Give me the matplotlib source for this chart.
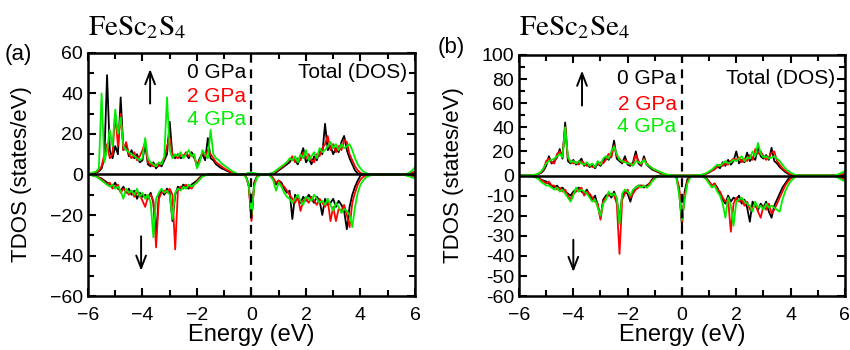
import matplotlib.pyplot as plt
import numpy as np

plt.rcParams['font.family'] = ['Liberation Sans', 'DejaVu Sans']
plt.rcParams['mathtext.fontset'] = 'stix'

# energy grid (eV)
energy = np.round(np.arange(-6, 6.001, 0.1), 1)

# ---- (a) FeSc2S4 ----
a_up_0 = [0, 0.3, 0.6, 1, 1.5, 3, 8, 49, 12, 8,
          14, 10, 38, 12, 15, 9, 12, 8, 10, 6,
          7, 15, 5, 4, 6, 3, 5, 4, 7, 10,
          26, 9, 8, 10, 8, 9, 10, 8, 11, 9,
          4, 8, 10, 7, 18, 8, 7, 5, 4, 3,
          2.5, 1.8, 1.2, 0.6, 0.2, 0, 0, 0, 0.2, 0.6,
          0.5, 0.3, 0.2, 0, 0, 0, 0, 0.2, 0.5, 1,
          2, 3, 4, 5, 6, 8, 7, 5, 9, 13,
          6, 8, 5, 9, 7, 12, 10, 25, 12, 14,
          10, 13, 11, 16, 19, 12, 8, 5, 2, 0.5,
          0, 0, 0, 0, 0, 0, 0, 0, 0, 0,
          0, 0, 0, 0, 0, 0, 0, 0, 0.2, 0.5,
          1]
a_up_2 = [0, 0.3, 0.7, 1.2, 2, 4, 10, 15, 8, 10,
          30, 14, 30, 12, 16, 10, 8, 11, 7, 9,
          12, 16, 6, 5, 4, 5, 4, 6, 8, 14,
          18, 10, 9, 8, 10, 9, 11, 9, 10, 8,
          5, 7, 11, 9, 12, 10, 8, 6, 5, 4,
          3, 2.2, 1.5, 0.8, 0.3, 0, 0, 0, 0.2, 0.5,
          0.6, 0.4, 0.3, 0, 0, 0, 0, 0.3, 0.8, 1.5,
          2.5, 3.5, 4.5, 6, 7, 9, 6, 8, 7, 11,
          8, 10, 7, 6, 10, 9, 13, 15, 19, 12,
          15, 11, 14, 12, 17, 16, 10, 7, 4, 2,
          0.8, 0.2, 0, 0, 0, 0, 0, 0, 0, 0,
          0, 0, 0, 0, 0, 0, 0, 0, 0.5, 1,
          1.5]
a_up_4 = [0, 0.5, 1, 1.5, 3, 40, 6, 12, 22, 14,
          32, 20, 28, 14, 12, 11, 10, 9, 8, 7,
          8, 18, 8, 6, 5, 4, 6, 5, 9, 38,
          12, 8, 10, 9, 11, 8, 10, 12, 9, 10,
          3, 6, 12, 10, 8, 22, 10, 8, 7, 5.5,
          4.5, 3.5, 2.5, 1.5, 0.8, 0.3, 0, 0, 0.3, 0.8,
          1, 0.6, 0.4, 0.2, 0, 0, 0.2, 0.5, 1, 2,
          3, 4, 5, 6, 8, 7, 9, 6, 10, 8,
          12, 7, 9, 11, 8, 13, 11, 12, 14, 16,
          13, 15, 12, 15, 13, 14, 15, 12, 8, 5,
          3, 1.5, 0.8, 0.3, 0, 0, 0, 0, 0, 0,
          0, 0, 0, 0, 0, 0, 0, 0.3, 1, 2,
          3.5]
a_dn_0 = [0, -0.2, -0.5, -0.8, -1.5, -2, -3, -4, -5, -6,
          -4, -7, -8, -6, -9, -7, -10, -8, -12, -9,
          -11, -10, -12, -9, -14, -30, -11, -8, -10, -7,
          -9, -23, -10, -6, -7, -5, -6, -7, -5, -4,
          -3, -1.5, -0.5, -0.2, 0, 0, 0, 0, 0, 0,
          0, 0, 0, 0, 0, 0, 0, 0, -1, -5,
          -22, -4, -1, -0.3, 0, 0, 0, -0.5, -2, -5,
          -3, -4, -7, -9, -8, -22, -10, -12, -14, -11,
          -13, -10, -12, -14, -11, -13, -20, -12, -15, -14,
          -12, -16, -13, -15, -18, -27, -16, -10, -6, -3,
          -0.5, 0, 0, 0, 0, 0, 0, 0, 0, 0,
          0, 0, 0, 0, 0, 0, 0, -0.2, -0.4, -0.6,
          -0.8]
a_dn_2 = [0, -0.2, -0.5, -1, -1.5, -2.5, -3.5, -5, -4, -7,
          -6, -5, -9, -7, -8, -10, -8, -11, -9, -10,
          -13, -16, -11, -10, -13, -36, -12, -9, -8, -9,
          -7, -10, -37, -8, -6, -7, -5, -6, -7, -5,
          -3.5, -2, -0.8, -0.3, 0, 0, 0, 0, 0, 0,
          0, 0, 0, 0, 0, 0, 0, 0, -1, -6,
          -23, -5, -1, -0.3, 0, 0, 0, -0.5, -2, -4,
          -3, -5, -6, -8, -10, -12, -14, -11, -18, -13,
          -12, -14, -11, -13, -15, -12, -14, -16, -13, -23,
          -16, -23, -17, -18, -15, -20, -26, -14, -9, -5,
          -2.5, -1.2, -0.5, -0.2, 0, 0, 0, 0, 0, 0,
          0, 0, 0, 0, 0, 0, 0, -0.4, -0.7, -1,
          -1.3]
a_dn_4 = [0, -0.3, -0.6, -1, -2, -3, -4, -5, -6, -5,
          -7, -6, -8, -12, -7, -9, -8, -10, -7, -11,
          -9, -12, -10, -14, -31, -12, -9, -7, -9, -8,
          -10, -22, -9, -7, -8, -6, -7, -5, -6, -5,
          -4, -2.5, -1, -0.5, -0.3, -0.2, 0, 0, 0, 0,
          0, 0, 0, 0, 0, 0, 0, 0, -1.5, -5,
          -20, -6, -1.5, -0.5, 0, 0, 0, -1, -3, -8,
          -4, -6, -9, -11, -12, -14, -12, -10, -13, -15,
          -11, -12, -13, -10, -12, -14, -13, -15, -12, -15,
          -18, -14, -16, -19, -17, -18, -20, -26, -16, -9,
          -5, -3, -1.5, -0.8, -0.3, 0, 0, 0, 0, 0,
          0, 0, 0, 0, 0, 0, -0.3, -0.6, -1, -1.5,
          -2]

# ---- (b) FeSc2Se4 ----
b_up_0 = [0, 0, 0, 0, 0.1, 0.2, 0.5, 1, 2, 4,
          8, 16, 10, 12, 15, 22, 14, 44, 12, 10,
          13, 9, 11, 14, 8, 10, 7, 9, 6, 10,
          8, 12, 15, 13, 17, 29, 14, 12, 10, 16,
          9, 8, 11, 20, 10, 8, 16, 9, 7, 5,
          4, 3, 2, 1.2, 0.6, 0.2, 0, 0, 0, 0,
          0, 0, 0, 0, 0, 0, 0, 0.3, 0.7, 1.5,
          2.5, 4, 6, 8, 6, 11, 8, 13, 9, 12,
          20, 10, 13, 11, 19, 12, 15, 13, 24, 16,
          14, 17, 13, 23, 12, 10, 7, 5, 3, 1.5,
          0.5, 0, 0, 0, 0, 0, 0, 0, 0, 0,
          0, 0, 0, 0, 0, 0, 0, 0, 0.3, 0.6,
          1]
b_up_2 = [0, 0, 0, 0, 0.1, 0.2, 0.5, 1.2, 2.5, 5,
          12, 14, 11, 10, 18, 20, 16, 40, 14, 12,
          10, 11, 9, 12, 10, 8, 9, 7, 8, 9,
          11, 10, 13, 18, 15, 25, 16, 14, 11, 13,
          11, 9, 10, 17, 12, 9, 14, 10, 8, 6,
          4.5, 3.5, 2.5, 1.5, 0.8, 0.3, 0, 0, 0, 0,
          0, 0, 0, 0, 0, 0, 0, 0.4, 0.8, 1.5,
          3, 4, 5, 7, 9, 8, 10, 9, 12, 14,
          13, 15, 11, 14, 12, 17, 13, 22, 18, 20,
          16, 13, 15, 19, 20, 12, 9, 6, 4, 2.5,
          1, 0.3, 0, 0, 0, 0, 0, 0, 0, 0,
          0, 0, 0, 0, 0, 0, 0, 0.2, 0.6, 1,
          2]
b_up_4 = [0, 0, 0, 0.1, 0.2, 0.4, 0.8, 1.5, 3, 6,
          10, 12, 13, 14, 16, 18, 15, 40, 16, 11,
          12, 10, 12, 10, 9, 11, 8, 10, 7, 12,
          9, 14, 16, 14, 20, 24, 18, 13, 12, 11,
          10, 10, 8, 12, 11, 10, 13, 9, 8, 6,
          5, 4, 3, 2, 1.2, 0.6, 0.2, 0, 0, 0,
          0, 0, 0, 0, 0, 0, 0.2, 0.6, 1.2, 2,
          3.5, 5, 7, 9, 8, 10, 12, 10, 11, 13,
          12, 14, 16, 12, 15, 14, 20, 16, 27, 18,
          15, 16, 14, 15, 16, 14, 12, 9, 6, 4,
          2.5, 1.2, 0.5, 0, 0, 0, 0, 0, 0, 0,
          0, 0, 0, 0, 0, 0, 0, 0.5, 1.5, 2.5,
          4]
b_dn_0 = [0, 0, 0, 0, 0, -0.3, -0.6, -1, -2, -2.5,
          -3, -4, -5, -6, -5, -7, -6, -8, -9, -10,
          -8, -7, -6, -8, -9, -7, -10, -12, -10, -15,
          -21, -12, -10, -9, -11, -8, -12, -22, -10, -8,
          -9, -13, -8, -6, -5, -5, -6, -5, -4, -2,
          -0.8, -0.3, 0, 0, 0, 0, 0, 0, -1, -8,
          -25, -8, -2, -0.5, 0, 0, 0, 0, -0.5, -1.5,
          -3, -5, -4, -6, -9, -12, -14, -10, -13, -11,
          -12, -10, -14, -12, -16, -23, -13, -15, -17, -14,
          -16, -13, -18, -21, -15, -12, -9, -6, -4, -2,
          -0.5, 0, 0, 0, 0, 0, 0, 0, 0, 0,
          0, 0, 0, 0, 0, 0, 0, -0.3, -0.6, -1,
          -1.5]
b_dn_2 = [0, 0, 0, 0, 0, -0.3, -0.7, -1.2, -2, -3,
          -4, -3, -5, -5, -7, -6, -8, -7, -10, -12,
          -9, -8, -7, -6, -10, -8, -9, -11, -13, -14,
          -22, -13, -11, -10, -9, -10, -14, -39, -12, -9,
          -7, -11, -9, -7, -6, -5, -5, -6, -4, -2.5,
          -1, -0.4, 0, 0, 0, 0, 0, 0, -1, -6,
          -23, -10, -3, -0.8, 0, 0, 0, 0, -0.5, -1.5,
          -3, -5, -4, -7, -8, -11, -13, -12, -28, -14,
          -11, -13, -12, -15, -13, -17, -16, -14, -18, -21,
          -15, -17, -14, -19, -17, -14, -11, -8, -5, -3,
          -1.5, -0.5, 0, 0, 0, 0, 0, 0, 0, 0,
          0, 0, 0, 0, 0, 0, -0.2, -0.5, -1, -1.5,
          -2]
b_dn_4 = [0, 0, 0, 0, -0.2, -0.5, -1, -1.5, -3, -4,
          -5, -5, -6, -7, -6, -8, -7, -9, -11, -13,
          -10, -6, -8, -7, -8, -9, -11, -13, -12, -16,
          -20, -14, -12, -8, -10, -9, -11, -24, -9, -7,
          -8, -10, -7, -6, -5, -6, -5, -6, -5, -3,
          -1.5, -0.6, 0, 0, 0, 0, 0, 0, -1.5, -10,
          -22, -12, -4, -1, 0, 0, 0, 0, -0.8, -2,
          -4, -6, -5, -8, -10, -14, -21, -11, -15, -25,
          -13, -12, -11, -13, -14, -15, -18, -13, -16, -15,
          -17, -14, -16, -15, -16, -17, -18, -12, -8, -5,
          -3, -1.5, -0.6, 0, 0, 0, 0, 0, 0, 0,
          0, 0, 0, 0, 0, 0, -0.4, -0.8, -1.5, -2.2,
          -3]

labels = ['0 GPa', '2 GPa', '4 GPa']
colors = ['black', '#ff0000', '#00ee00']


# (b) y axis: 0..100 squeezed, 0..-60 stretched
def fwd(y):
    y = np.asarray(y, dtype=float)
    return np.where(y < 0, y / 60.0, y / 100.0)


def inv(y):
    y = np.asarray(y, dtype=float)
    return np.where(y < 0, y * 60.0, y * 100.0)


fig = plt.figure(figsize=(8.5, 3.5), dpi=100)
ax1 = fig.add_axes([0.1035, 0.154, 0.3847, 0.695])
ax2 = fig.add_axes([0.6106, 0.154, 0.3834, 0.689])

panels = [
    (ax1, [a_up_0, a_up_2, a_up_4], [a_dn_0, a_dn_2, a_dn_4]),
    (ax2, [b_up_0, b_up_2, b_up_4], [b_dn_0, b_dn_2, b_dn_4]),
]
for ax, ups, dns in panels:
    for up, dn, c in zip(ups, dns, colors):
        ax.plot(energy, up, color=c, lw=1.3)
        ax.plot(energy, dn, color=c, lw=1.3)
    ax.axhline(0, color='black', lw=1.8, zorder=5)
    ax.axvline(0, color='black', lw=1.6, ls=(0, (4, 3)), zorder=5)
    ax.set_xlim(-6, 6)
    ax.set_xticks(np.arange(-6, 7, 2))
    ax.set_xticks(np.arange(-5, 6, 2), minor=True)
    ax.tick_params(which='both', direction='in', top=True, right=True,
                   labelsize=14, width=1.5)
    ax.tick_params(which='major', length=6)
    ax.tick_params(which='minor', length=4)
    ax.tick_params(axis='x', which='major', pad=8)
    for s in ax.spines.values():
        s.set_linewidth(1.8)
    ax.set_xlabel('Energy (eV)', fontsize=17, labelpad=0)
    ax.set_ylabel('TDOS (states/eV)', fontsize=16)
    ax.yaxis.set_label_coords(-0.17, 0.5)

ax1.set_ylim(-60, 60)
ax1.set_yticks(np.arange(-60, 61, 20))
ax1.set_yticks(np.arange(-50, 51, 20), minor=True)

ax2.set_yscale('function', functions=(fwd, inv))
ax2.set_ylim(-60, 100)
ax2.set_yticks([-60, -50, -40, -30, -20, -10, 0, 20, 40, 60, 80, 100])
ax2.set_yticks([10, 30, 50, 70, 90], minor=True)
ax2.set_yticklabels(['-60', '-50', '-40', '-30', '-20', '-10', '0',
                     '20', '40', '60', '80', '100'])

# legend-like texts and spin arrows
arrow_style = dict(arrowstyle='->,head_length=0.9,head_width=0.35', lw=1.4,
                   shrinkA=0, shrinkB=0)
for ax, ys, tot_x, arr in [
        (ax1, [47.5, 36, 24.5], 5.7, (-3.72, 35, 52, -4.05, -30.5, -47.5)),
        (ax2, [76, 54, 36], 5.63, (-3.68, 58, 87, -4.0, -32, -48))]:
    for lab, c, y in zip(labels, colors, ys):
        ax.text(-0.2, y, lab, color=c, fontsize=15, ha='right', va='baseline')
    ax.text(tot_x, ys[0], 'Total (DOS)', fontsize=15, ha='right', va='baseline')
    ax.annotate('', xy=(arr[0], arr[2]), xytext=(arr[0], arr[1]), arrowprops=arrow_style)
    ax.annotate('', xy=(arr[3], arr[5]), xytext=(arr[3], arr[4]), arrowprops=arrow_style)

fig.text(0.103, 0.9, r'FeSc$_2$S$_4$', fontsize=21, family='STIXGeneral', va='baseline')
fig.text(0.611, 0.9, r'FeSc$_2$Se$_4$', fontsize=21, family='STIXGeneral', va='baseline')
fig.text(0.006, 0.845, '(a)', fontsize=16, va='center')
fig.text(0.515, 0.865, '(b)', fontsize=16, va='center')

fig.savefig('out.png', dpi=100)
